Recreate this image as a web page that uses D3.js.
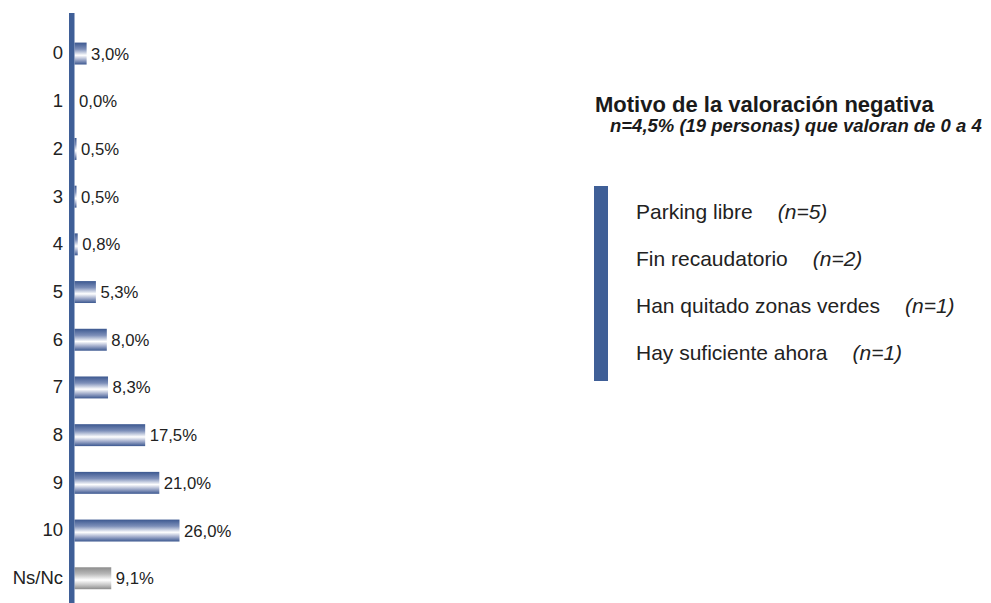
<!DOCTYPE html>
<html>
<head>
<meta charset="utf-8">
<script src="https://cdn.jsdelivr.net/npm/d3@7"></script>
<style>
  html, body { margin: 0; padding: 0; background: #ffffff; }
  svg { display: block; font-family: Arial, "Liberation Sans", sans-serif; }
</style>
</head>
<body>
<svg id="chart" width="991" height="603"></svg>
<script>
// ---- data ----
const categories = ["0", "1", "2", "3", "4", "5", "6", "7", "8", "9", "10", "Ns/Nc"];
const values = [3.0, 0.0, 0.5, 0.5, 0.8, 5.3, 8.0, 8.3, 17.5, 21.0, 26.0, 9.1];
const valueLabels = ["3,0%", "0,0%", "0,5%", "0,5%", "0,8%", "5,3%", "8,0%", "8,3%", "17,5%", "21,0%", "26,0%", "9,1%"];
const legendTitle = "Motivo de la valoración negativa";
const legendSubtitle = "n=4,5% (19 personas) que valoran de 0 a 4";
const reasons = ["Parking libre", "Fin recaudatorio", "Han quitado zonas verdes", "Hay suficiente ahora"];
const reasonCounts = ["(n=5)", "(n=2)", "(n=1)", "(n=1)"];

// ---- setup ----
const svg = d3.select("#chart");
const blue = "#3f5f97";

const defs = svg.append("defs");
function grad(id, edge, mid1, mid2) {
  const g = defs.append("linearGradient").attr("id", id)
    .attr("x1", 0).attr("y1", 0).attr("x2", 0).attr("y2", 1);
  [[0, edge], [0.3, mid1], [0.58, "#ffffff"], [0.8, mid2], [1, edge]]
    .forEach(([o, c]) => g.append("stop").attr("offset", o).attr("stop-color", c));
}
grad("gBlue", "#3c5890", "#7d8fb9", "#9aa6c7");
grad("gGrey", "#8c8c8c", "#b8b8b8", "#c8c8c8");

const x = d3.scaleLinear().domain([0, 26]).range([74.5, 179.5]);
const y = d3.scaleBand().domain(categories).range([29.7, 602.1])
  .paddingInner(0.54).paddingOuter(0.27);

// bars
svg.append("g").selectAll("rect").data(categories).join("rect")
  .attr("x", x(0))
  .attr("y", d => y(d))
  .attr("width", (d, i) => x(values[i]) - x(0))
  .attr("height", y.bandwidth())
  .attr("fill", d => d === "Ns/Nc" ? "url(#gGrey)" : "url(#gBlue)");

// value labels
svg.append("g").selectAll("text").data(categories).join("text")
  .attr("x", (d, i) => x(values[i]) + 4.5)
  .attr("y", d => y(d) + y.bandwidth() / 2)
  .attr("dy", "0.36em")
  .attr("font-size", 16.7)
  .attr("fill", "#222")
  .text((d, i) => valueLabels[i]);

// category axis
const axis = svg.append("g").attr("transform", "translate(69,0)")
  .call(d3.axisLeft(y).tickSize(0).tickPadding(6));
axis.select(".domain").remove();
axis.selectAll("text").attr("font-size", 18.5).attr("fill", "#222")
  .attr("font-family", "Arial, 'Liberation Sans', sans-serif");
svg.append("rect").attr("x", 69).attr("y", 13).attr("width", 5.5).attr("height", 590).attr("fill", blue);

// ---- legend block ----
const lg = svg.append("g");
lg.append("text").attr("x", 595).attr("y", 112)
  .attr("font-size", 22).attr("font-weight", "bold").attr("fill", "#1a1a1a")
  .text(legendTitle);
lg.append("text").attr("x", 610).attr("y", 132)
  .attr("font-size", 18.5).attr("font-weight", "bold").attr("font-style", "italic").attr("fill", "#1a1a1a")
  .text(legendSubtitle);

const ry = d3.scalePoint().domain(reasons).range([219, 360]);
lg.append("rect").attr("x", 594).attr("y", 186).attr("width", 14).attr("height", 195).attr("fill", blue);
reasons.forEach((r, i) => {
  const t = lg.append("text").attr("x", 636).attr("y", ry(r))
    .attr("font-size", 21).attr("fill", "#222").text(r);
  const w = t.node().getComputedTextLength();
  lg.append("text").attr("x", 636 + w + 25).attr("y", ry(r))
    .attr("font-size", 21).attr("font-style", "italic").attr("fill", "#222").text(reasonCounts[i]);
});
</script>
</body>
</html>
